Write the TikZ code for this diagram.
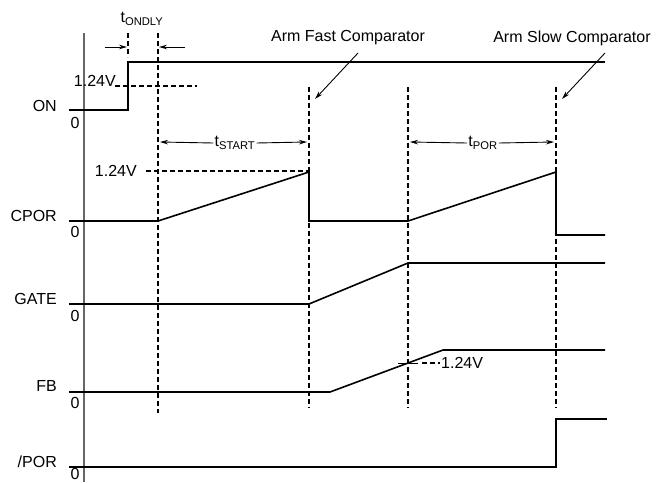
\documentclass[tikz,border=0pt]{standalone}
\usepackage{fontspec}
\setmainfont{Liberation Sans}
\usetikzlibrary{positioning,arrows.meta}
\tikzset{
  sig/.style={draw=black, line width=1.6pt, line join=miter},
  guide/.style={draw=black, line width=1.3pt, dash pattern=on 5pt off 3pt},
  axisline/.style={draw=black!60, line width=1.4pt},
  lbl/.style={font=\fontsize{16}{18}\selectfont, inner sep=1pt},
  nm/.style={lbl, anchor=east},
  zero/.style={lbl, inner sep=0pt},
  dim/.style={draw=black, line width=0.9pt, -{Stealth[length=8pt,width=4.5pt]}},
  timing/.style={x=1pt, y=-1pt}
}

\begin{document}
\begin{tikzpicture}[timing]
  \useasboundingbox (0,0) rectangle (660,482);
  % axis
  \draw[axisline] (84,33) -- (84,482);
  % signal names
  \node[nm] (on)   at (58,106) {ON};
  \node[nm] (cpor) at (58,216) {CPOR};
  \node[nm] (gate) at (58,299) {GATE};
  \node[nm] (fb)   at (58,386) {FB};
  \node[nm] (por)  at (58,462) {/POR};
  \foreach \y in {123,232,316,403,474}
    \node[zero] at (75,\y) {0};
  % time marks
  \draw[guide] (128,33) -- (128,57);
  \draw[guide] (158,33) -- (158,413);
  \foreach \x in {309,408,556}
    \draw[guide] (\x,87) -- (\x,408);
  % thresholds
  \draw[guide] (115,86) -- (197,86);
  \node[lbl, anchor=south east, inner sep=0pt] (von) at (116,87) {1.24V};
  \draw[guide] (146,171) -- (309,171);
  \node[lbl, anchor=east] (vcp) at (138,171) {1.24V};
  \draw[sig, line width=1pt] (398,363) -- (418,363);
  \draw[guide] (422,363) -- (440,363);
  \node[lbl, anchor=west, inner sep=0pt] (vfb) at (441,363) {1.24V};
  % waveforms
  \draw[sig] (69,110) -- (128,110) -- (128,62) -- (605,62);
  \draw[sig] (69,221) -- (158,221) -- (309,172) -- (309,221) -- (408,221)
    -- (556,172) -- (556,235) -- (605,235);
  \draw[sig] (69,304) -- (309,304) -- (408,263) -- (605,263);
  \draw[sig] (69,392) -- (330,392) -- (443,350) -- (605,350);
  \draw[sig] (69,467) -- (556,467) -- (556,419) -- (607,419);
  % delays
  \node[lbl] (tondly) at (142,19) {t\textsubscript{ONDLY}};
  \coordinate (dlyL) at (105,47);
  \coordinate (dlyR) at (185,47);
  \draw[dim] (dlyL) -- (127,47);
  \draw[dim] (dlyR) -- (159,47);
  \node[lbl] (tstart) at (235,143) {t\textsubscript{START}};
  \draw[dim] (tstart.west) -- (160,142);
  \draw[dim] (tstart.east) -- (307,142);
  \node[lbl] (tpor) at (483,143) {t\textsubscript{POR}};
  \draw[dim] (tpor.west) -- (410,142);
  \draw[dim] (tpor.east) -- (554,142);
  % comparators
  \node[lbl] (fast) at (348,38) {Arm Fast Comparator};
  \node[lbl] (slow) at (572,38) {Arm Slow Comparator};
  \coordinate (fastTip) at (315,99);
  \coordinate (slowTip) at (562,99);
  \draw[dim] (358,53) -- (fastTip);
  \draw[dim] (605,53) -- (slowTip);
\end{tikzpicture}
\end{document}
